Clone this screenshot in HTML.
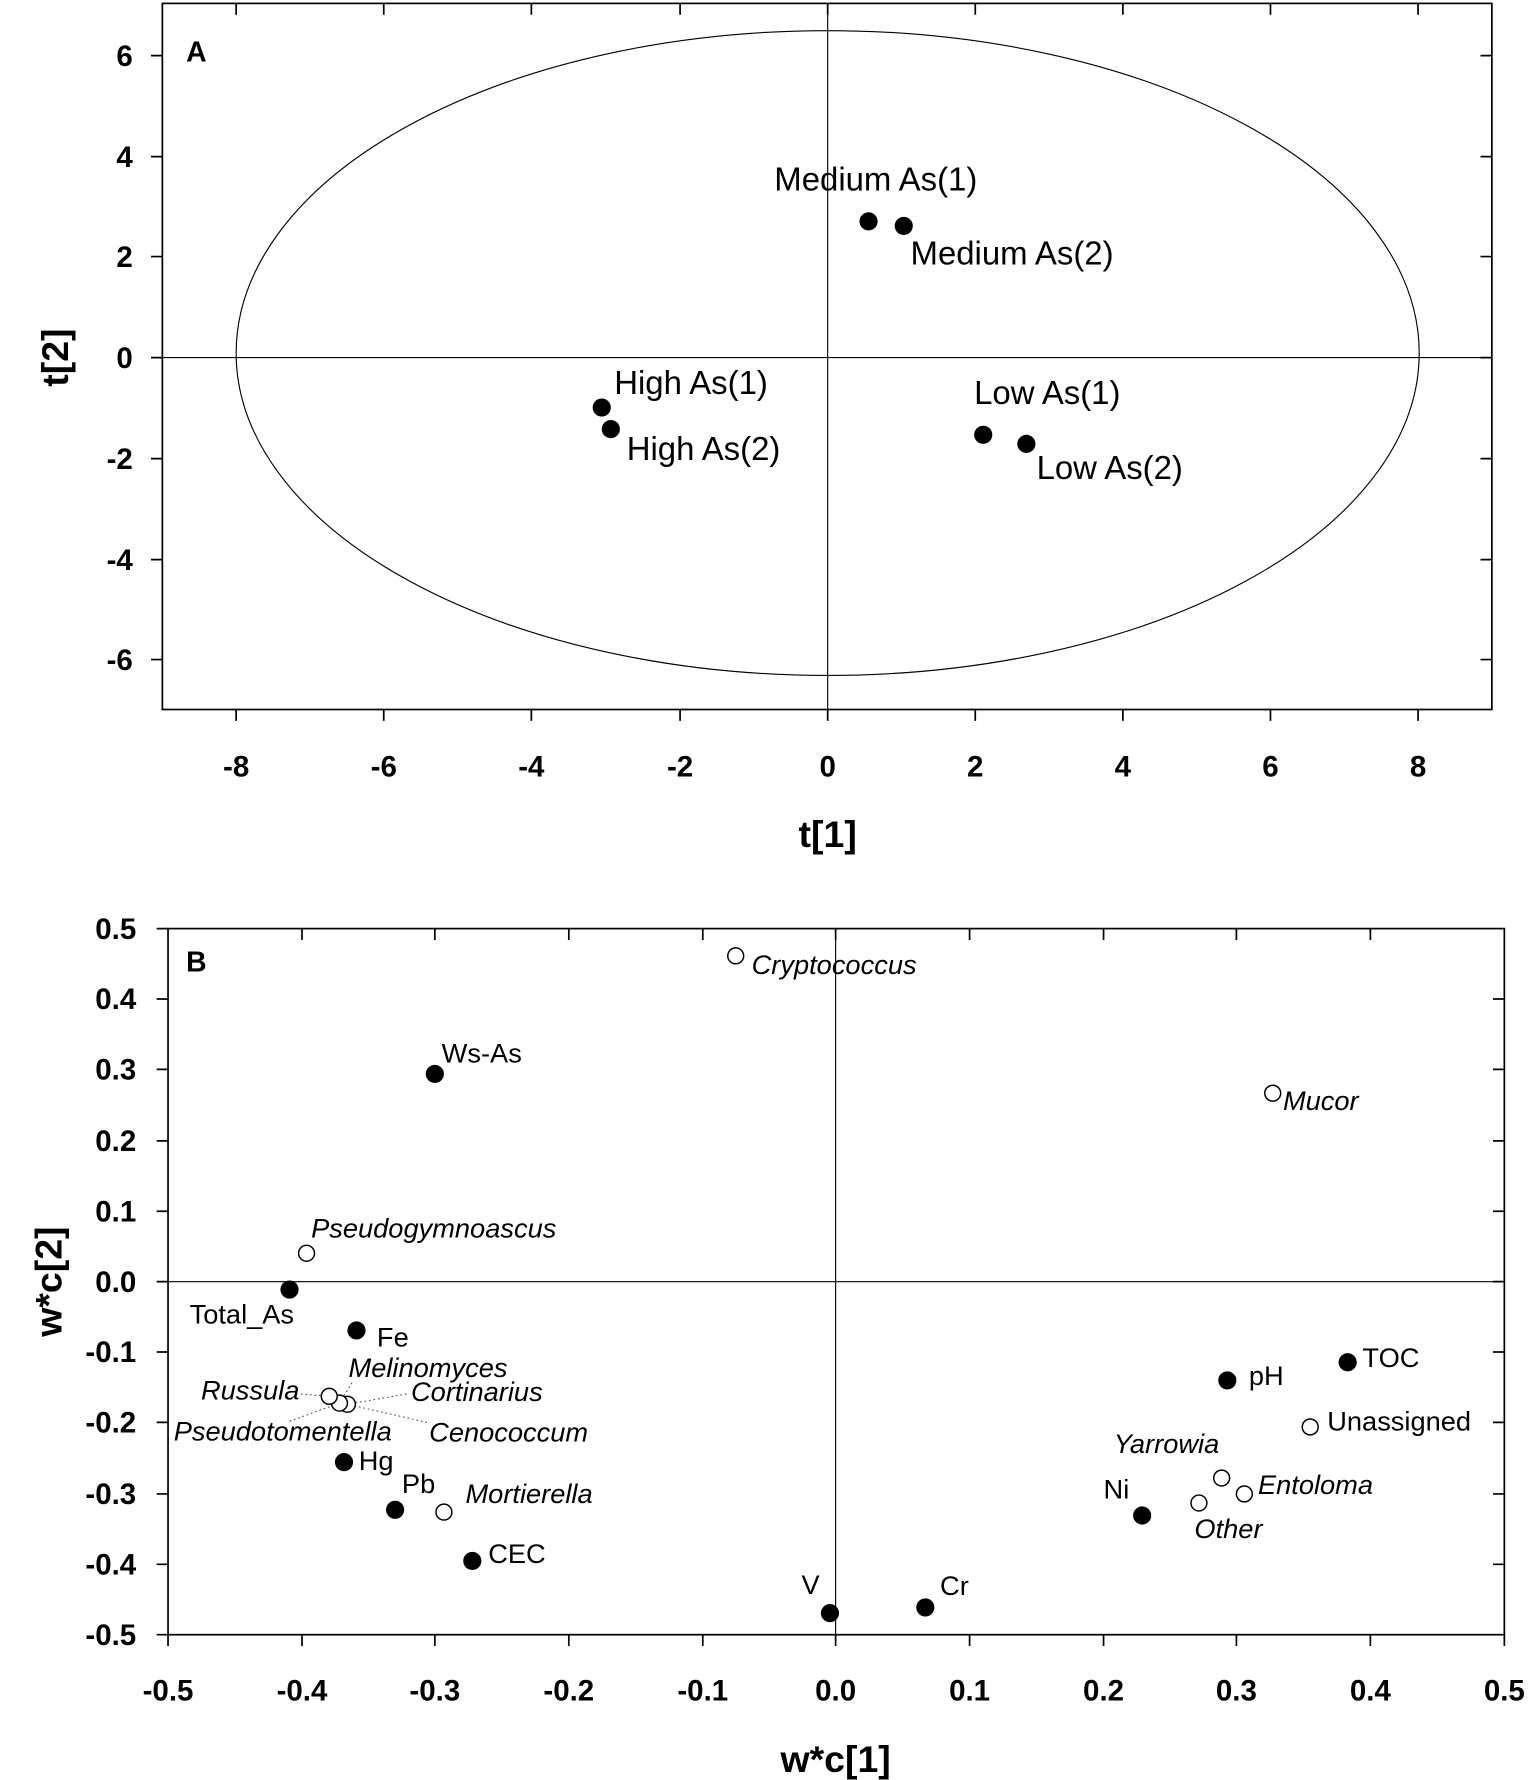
<!DOCTYPE html>
<html><head><meta charset="utf-8"><style>html,body{margin:0;padding:0;background:#fff}svg{display:block}</style></head>
<body>
<svg width="1535" height="1780" viewBox="0 0 1352 1568" preserveAspectRatio="none" xmlns="http://www.w3.org/2000/svg" font-family="Liberation Sans, Arial, sans-serif">
<rect width="1352" height="1568" fill="#fff"/>
<!-- Panel A -->
<g stroke="#000" fill="none" stroke-width="1.5">
<rect x="143" y="3" width="1171" height="622"/>
<line x1="729" y1="3" x2="729" y2="625" stroke-width="1"/>
<line x1="143" y1="315" x2="1314" y2="315" stroke-width="1"/>
<ellipse cx="729" cy="311" rx="521" ry="284" stroke-width="1"/>
<path d="M208,625v10M338,625v10M468,625v10M599,625v10M729,625v10M859,625v10M989,625v10M1119,625v10M1249,625v10
M208,3v10M338,3v10M468,3v10M599,3v10M729,3v10M859,3v10M989,3v10M1119,3v10M1249,3v10
M143,49h-10M143,138h-10M143,226h-10M143,315h-10M143,404h-10M143,493h-10M143,581h-10
M1314,49h-10M1314,138h-10M1314,226h-10M1314,315h-10M1314,404h-10M1314,493h-10M1314,581h-10"/>
</g>
<g font-weight="bold" font-size="26" text-anchor="end">
<text x="117" y="58">6</text><text x="117" y="147">4</text><text x="117" y="235">2</text><text x="117" y="324">0</text><text x="117" y="413">-2</text><text x="117" y="502">-4</text><text x="117" y="590">-6</text>
</g>
<g font-weight="bold" font-size="26" text-anchor="middle">
<text x="208" y="684">-8</text><text x="338" y="684">-6</text><text x="468" y="684">-4</text><text x="599" y="684">-2</text><text x="729" y="684">0</text><text x="859" y="684">2</text><text x="989" y="684">4</text><text x="1119" y="684">6</text><text x="1249" y="684">8</text>
<text x="729" y="746" font-size="33">t[1]</text>
<text transform="translate(60,315) rotate(-90)" font-size="33">t[2]</text>
</g>
<text x="164" y="54" font-weight="bold" font-size="25">A</text>
<g fill="#000">
<circle cx="765" cy="195" r="8"/><circle cx="796" cy="199" r="8"/><circle cx="530" cy="359" r="8"/><circle cx="538" cy="378" r="8"/><circle cx="866" cy="383" r="8"/><circle cx="904" cy="391" r="8"/>
</g>
<g font-size="29">
<text x="682" y="168">Medium As(1)</text><text x="802" y="233">Medium As(2)</text><text x="541" y="347">High As(1)</text><text x="552" y="405">High As(2)</text><text x="858" y="356">Low As(1)</text><text x="913" y="422">Low As(2)</text>
</g>
<!-- Panel B -->
<g stroke="#000" fill="none" stroke-width="1.5">
<rect x="148" y="818" width="1177" height="622"/>
<line x1="736" y1="818" x2="736" y2="1440" stroke-width="1"/>
<line x1="148" y1="1129" x2="1325" y2="1129" stroke-width="1"/>
<path d="M148,1440v10M266,1440v10M383,1440v10M501,1440v10M619,1440v10M736,1440v10M854,1440v10M972,1440v10M1089,1440v10M1207,1440v10M1325,1440v10
M266,818v10M383,818v10M501,818v10M619,818v10M736,818v10M854,818v10M972,818v10M1089,818v10M1207,818v10
M148,818h-10M148,880h-10M148,942h-10M148,1005h-10M148,1067h-10M148,1129h-10M148,1191h-10M148,1253h-10M148,1316h-10M148,1378h-10M148,1440h-10
M1325,880h-10M1325,942h-10M1325,1005h-10M1325,1067h-10M1325,1129h-10M1325,1191h-10M1325,1253h-10M1325,1316h-10M1325,1378h-10"/>
</g>
<g font-weight="bold" font-size="26" text-anchor="end">
<text x="120" y="827">0.5</text><text x="120" y="889">0.4</text><text x="120" y="951">0.3</text><text x="120" y="1014">0.2</text><text x="120" y="1076">0.1</text><text x="120" y="1138">0.0</text><text x="120" y="1200">-0.1</text><text x="120" y="1262">-0.2</text><text x="120" y="1325">-0.3</text><text x="120" y="1387">-0.4</text><text x="120" y="1449">-0.5</text>
</g>
<g font-weight="bold" font-size="26" text-anchor="middle">
<text x="148" y="1498">-0.5</text><text x="266" y="1498">-0.4</text><text x="383" y="1498">-0.3</text><text x="501" y="1498">-0.2</text><text x="619" y="1498">-0.1</text><text x="736" y="1498">0.0</text><text x="854" y="1498">0.1</text><text x="972" y="1498">0.2</text><text x="1089" y="1498">0.3</text><text x="1207" y="1498">0.4</text><text x="1325" y="1498">0.5</text>
<text x="736" y="1561" font-size="33">w*c[1]</text>
<text transform="translate(54,1129) rotate(-90)" font-size="33">w*c[2]</text>
</g>
<text x="164" y="856" font-weight="bold" font-size="25">B</text>
<g stroke="#555" stroke-width="1" stroke-dasharray="1.5,2.5" fill="none">
<path d="M265,1228L290,1230M358,1228L306,1237M376,1253L306,1237M310,1218L299,1236M255,1252L299,1236"/>
</g>
<g fill="#000">
<circle cx="383" cy="946" r="8"/><circle cx="255" cy="1136" r="8"/><circle cx="314" cy="1172" r="8"/><circle cx="303" cy="1288" r="8"/><circle cx="348" cy="1330" r="8"/><circle cx="416" cy="1375" r="8"/><circle cx="731" cy="1421" r="8"/><circle cx="815" cy="1416" r="8"/><circle cx="1081" cy="1216" r="8"/><circle cx="1187" cy="1200" r="8"/><circle cx="1006" cy="1335" r="8"/>
</g>
<g fill="#fff" stroke="#000" stroke-width="1.3">
<circle cx="648" cy="842" r="7"/><circle cx="1121" cy="963" r="7"/><circle cx="270" cy="1104" r="7"/><circle cx="306" cy="1237" r="7"/><circle cx="299" cy="1236" r="7"/><circle cx="290" cy="1230" r="7"/><circle cx="391" cy="1332" r="7"/><circle cx="1154" cy="1257" r="7"/><circle cx="1076" cy="1302" r="7"/><circle cx="1096" cy="1316" r="7"/><circle cx="1056" cy="1324" r="7"/>
</g>
<g font-size="24">
<text x="389" y="936">Ws-As</text><text x="167" y="1166">Total_As</text><text x="332" y="1186">Fe</text><text x="316" y="1295">Hg</text><text x="354" y="1315">Pb</text><text x="430" y="1377">CEC</text><text x="706" y="1404">V</text><text x="828" y="1405">Cr</text><text x="1100" y="1220">pH</text><text x="1200" y="1204">TOC</text><text x="1169" y="1260">Unassigned</text><text x="972" y="1320">Ni</text>
</g>
<g font-size="24" font-style="italic">
<text x="662" y="858">Cryptococcus</text><text x="1130" y="978">Mucor</text><text x="274" y="1090">Pseudogymnoascus</text><text x="307" y="1213">Melinomyces</text><text x="177" y="1233">Russula</text><text x="362" y="1234">Cortinarius</text><text x="153" y="1269">Pseudotomentella</text><text x="378" y="1270">Cenococcum</text><text x="410" y="1324">Mortierella</text><text x="981" y="1280">Yarrowia</text><text x="1108" y="1316">Entoloma</text><text x="1052" y="1355">Other</text>
</g>
</svg>
</body></html>
